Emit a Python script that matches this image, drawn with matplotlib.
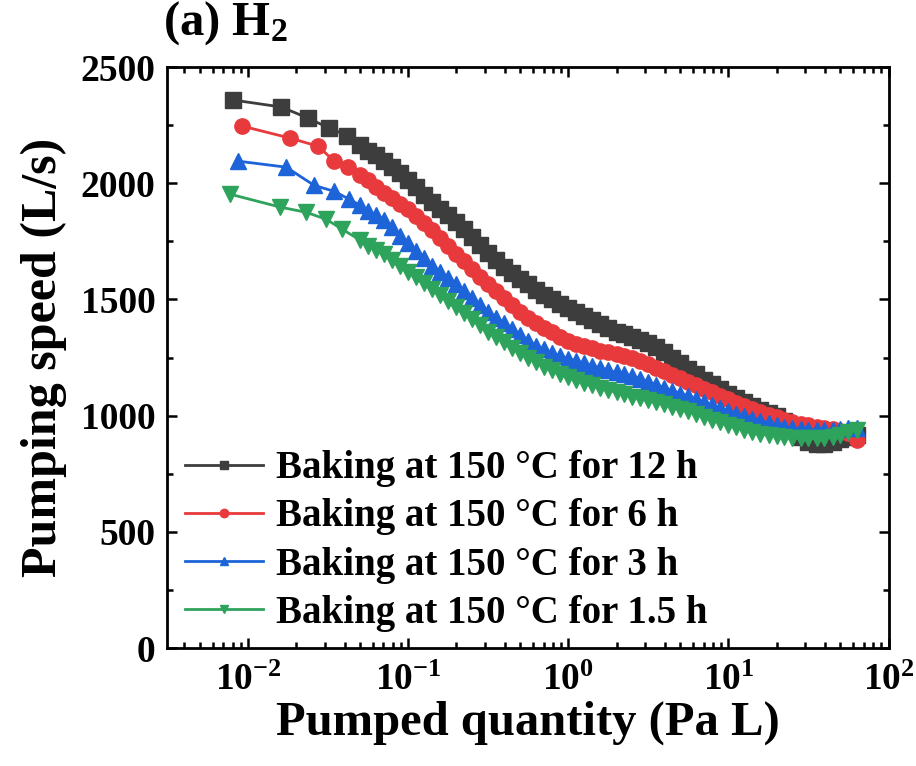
import numpy as np
import matplotlib
matplotlib.use("Agg")
import matplotlib.pyplot as plt
from matplotlib.ticker import LogLocator, MultipleLocator, FuncFormatter, NullFormatter

plt.rcParams["font.family"] = ["Liberation Serif", "DejaVu Serif"]
plt.rcParams["font.weight"] = "bold"
plt.rcParams["mathtext.fontset"] = "custom"
plt.rcParams["mathtext.rm"] = "Liberation Serif:bold"
plt.rcParams["mathtext.bf"] = "Liberation Serif:bold"
plt.rcParams["mathtext.it"] = "Liberation Serif:bold:italic"

# first (sparse) points of each run, pumped quantity (Pa L) / speed (L/s)
q_12h_head = [0.00806, 0.0161, 0.0237, 0.0321, 0.0417]
s_12h_head = [2358, 2328, 2280, 2237, 2205]
q_6h_head = [0.00917, 0.0183, 0.0274, 0.0345, 0.0420]
s_6h_head = [2246, 2194, 2159, 2095, 2068]
q_3h_head = [0.00866, 0.0173, 0.0258, 0.0345, 0.0428]
s_3h_head = [2095, 2069, 1991, 1965, 1931]
q_15h_head = [0.0077, 0.0159, 0.0230, 0.0307, 0.0387]
s_15h_head = [1953, 1897, 1875, 1845, 1802]

# dense part, read at these pumped quantities
q_dense = [0.0501, 0.0562, 0.0631, 0.0708, 0.0794, 0.0891, 0.100, 0.112, 0.126, 0.141,
           0.158, 0.178, 0.200, 0.224, 0.251, 0.282, 0.316, 0.355, 0.398, 0.447,
           0.501, 0.562, 0.631, 0.708, 0.794, 0.891, 1.00, 1.12, 1.26, 1.41,
           1.58, 1.78, 2.00, 2.24, 2.51, 2.82, 3.16, 3.55, 3.98, 4.47,
           5.01, 5.62, 6.31, 7.08, 7.94, 8.91, 10.0, 11.2, 12.6, 14.1,
           15.8, 17.8, 20.0, 22.4, 25.1, 28.2, 31.6, 35.5, 39.8, 44.7,
           50.1, 56.2, 63.1]

s_12h = [2165, 2140, 2120, 2095, 2070, 2045, 2015, 1985, 1950, 1918,
         1890, 1862, 1832, 1802, 1770, 1735, 1700, 1668, 1640, 1615,
         1590, 1565, 1540, 1518, 1500, 1480, 1462, 1445, 1428, 1410,
         1395, 1378, 1362, 1350, 1338, 1326, 1312, 1294, 1272, 1250,
         1225, 1200, 1178, 1155, 1135, 1115, 1095, 1077, 1060, 1042,
         1025, 1012, 1000, 975, 945, 910, 885, 878, 880, 888,
         900, 910, 915]
s_6h = [2037, 2012, 1985, 1960, 1938, 1912, 1888, 1860, 1830, 1800,
        1765, 1728, 1695, 1665, 1632, 1597, 1565, 1535, 1505, 1475,
        1445, 1420, 1398, 1378, 1360, 1340, 1322, 1310, 1300, 1290,
        1280, 1272, 1265, 1258, 1250, 1236, 1222, 1206, 1190, 1175,
        1160, 1145, 1130, 1115, 1100, 1085, 1070, 1055, 1040, 1027,
        1015, 1003, 992, 982, 973, 965, 958, 952, 947, 942,
        935, 925, 893]
s_3h = [1905, 1882, 1862, 1840, 1810, 1775, 1742, 1710, 1678, 1645,
        1618, 1592, 1565, 1535, 1505, 1475, 1447, 1422, 1397, 1372,
        1347, 1322, 1300, 1285, 1270, 1257, 1245, 1235, 1225, 1215,
        1205, 1195, 1186, 1178, 1170, 1158, 1145, 1132, 1120, 1108,
        1095, 1083, 1070, 1057, 1045, 1032, 1020, 1008, 997, 987,
        977, 968, 960, 953, 947, 943, 940, 938, 938, 940,
        942, 945, 948]
s_15h = [1755, 1730, 1712, 1697, 1670, 1642, 1618, 1595, 1570, 1545,
         1518, 1492, 1467, 1442, 1415, 1388, 1362, 1338, 1315, 1292,
         1270, 1250, 1230, 1210, 1195, 1180, 1165, 1152, 1140, 1130,
         1120, 1110, 1100, 1091, 1082, 1074, 1066, 1057, 1048, 1039,
         1030, 1018, 1007, 995, 983, 971, 960, 950, 940, 931,
         923, 917, 912, 908, 905, 903, 902, 903, 905, 910,
         918, 930, 940]

labels = ["Baking at 150 °C for 12 h", "Baking at 150 °C for 6 h",
          "Baking at 150 °C for 3 h", "Baking at 150 °C for 1.5 h"]

fig = plt.figure(figsize=(9.16, 7.66), dpi=100)
ax = fig.add_axes([0.182, 0.154, 0.788, 0.7585])

runs = [
    (q_12h_head, s_12h_head, s_12h, "s", "#3d3d3d"),
    (q_6h_head, s_6h_head, s_6h, "o", "#e8393c"),
    (q_3h_head, s_3h_head, s_3h, "^", "#1c64d8"),
    (q_15h_head, s_15h_head, s_15h, "v", "#2ea35c"),
]
for (qh, sh, sd, mk, col), lab in zip(runs, labels):
    q = qh + q_dense
    s = sh + sd
    ax.plot(q, s, marker=mk, color=col, ms=11, lw=2, label=lab)

ax.set_xscale("log")
ax.set_xlim(0.0031, 100)
ax.set_ylim(0, 2500)
ax.xaxis.set_major_locator(LogLocator(base=10, numticks=10))
ax.xaxis.set_minor_locator(LogLocator(base=10, subs=np.arange(2, 10), numticks=10))
ax.xaxis.set_minor_formatter(NullFormatter())
ax.xaxis.set_major_formatter(FuncFormatter(lambda v, p: r"$\mathbf{10^{%d}}$" % round(np.log10(v))))
ax.yaxis.set_major_locator(MultipleLocator(500))
ax.yaxis.set_minor_locator(MultipleLocator(250))

ax.tick_params(which="both", direction="in", top=True, right=True, width=1.8)
ax.tick_params(which="major", length=7, labelsize=27, pad=8)
ax.tick_params(which="minor", length=4)
ax.tick_params(axis="x", which="major", pad=11)
for sp in ax.spines.values():
    sp.set_linewidth(2)

ax.set_xlabel("Pumped quantity (Pa L)", fontsize=35, fontweight="bold", labelpad=2)
ax.set_ylabel("Pumping speed (L/s)", fontsize=36, fontweight="bold", labelpad=10)

fig.text(0.178, 0.938, r"(a) H$_{\mathbf{2}}$", fontsize=35, fontweight="bold", va="bottom")

leg = ax.legend(loc="lower left", bbox_to_anchor=(-0.01, -0.016), frameon=False, fontsize=28,
                handlelength=2.0, handletextpad=0.35, labelspacing=0.29, markerscale=0.55,
                borderaxespad=0.25)

fig.savefig("out.png", dpi=100)
